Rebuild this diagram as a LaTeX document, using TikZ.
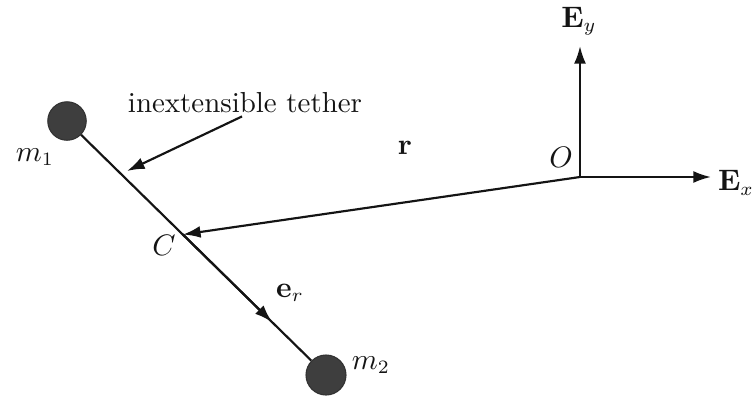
\documentclass[tikz,border=0pt]{standalone}
\usetikzlibrary{arrows.meta,positioning,calc}
\definecolor{ink}{RGB}{20,20,20}
\definecolor{lead}{RGB}{62,62,62}
\tikzset{
  >={Latex[length=6.5pt,width=4.4pt]},
  mass/.style={circle,fill=lead,draw=lead!80!black,minimum size=#1,inner sep=0pt},
  mass/.default=0.5cm,
  rod/.style={draw=ink,line width=0.8pt},
  vec/.style={->,draw=ink,line width=0.8pt},
  tag/.style={font=\fontsize{10.7}{13}\selectfont,text=ink,inner sep=1pt},
}
\begin{document}
\begin{tikzpicture}[x=0.013cm,y=-0.013cm]
  \useasboundingbox (0,0) rectangle (755,396);
  % masses and tether
  \node[mass] (m1) at (67,121) {};
  \node[mass=0.52cm] (m2) at (326,375) {};
  \draw[rod] (m1) -- (m2);
  \coordinate (C) at (183,234.5);
  \coordinate (er) at (272,322);
  \draw[vec] (C) -- (er);
  % frame at O
  \coordinate (O) at (580,177);
  \coordinate (Ey) at (580,46);
  \coordinate (Ex) at (711,177);
  \draw[vec] (O) -- (Ey);
  \draw[vec] (O) -- (Ex);
  \draw[vec] (O) -- (C);
  % labels
  \node[tag] (lm1) at (35,157) {$m_1$};
  \node[tag] (lm2) at (371,365) {$m_2$};
  \node[tag] (lC) at (164,245) {$C$};
  \node[tag] (lO) at (561,157) {$O$};
  \node[tag] (lr) at (405,148) {$\mathbf{r}$};
  \node[tag] (ler) at (290,293) {$\mathbf{e}_r$};
  \node[tag] (lEy) at (579,21) {$\mathbf{E}_y$};
  \node[tag] (lEx) at (736,183) {$\mathbf{E}_x$};
  \node[tag] (tether) at (245,103) {inextensible tether};
  \coordinate (tip) at (127,171);
  \draw[vec] ($(tether.south)+(-3,0)$) -- (tip);
\end{tikzpicture}
\end{document}
